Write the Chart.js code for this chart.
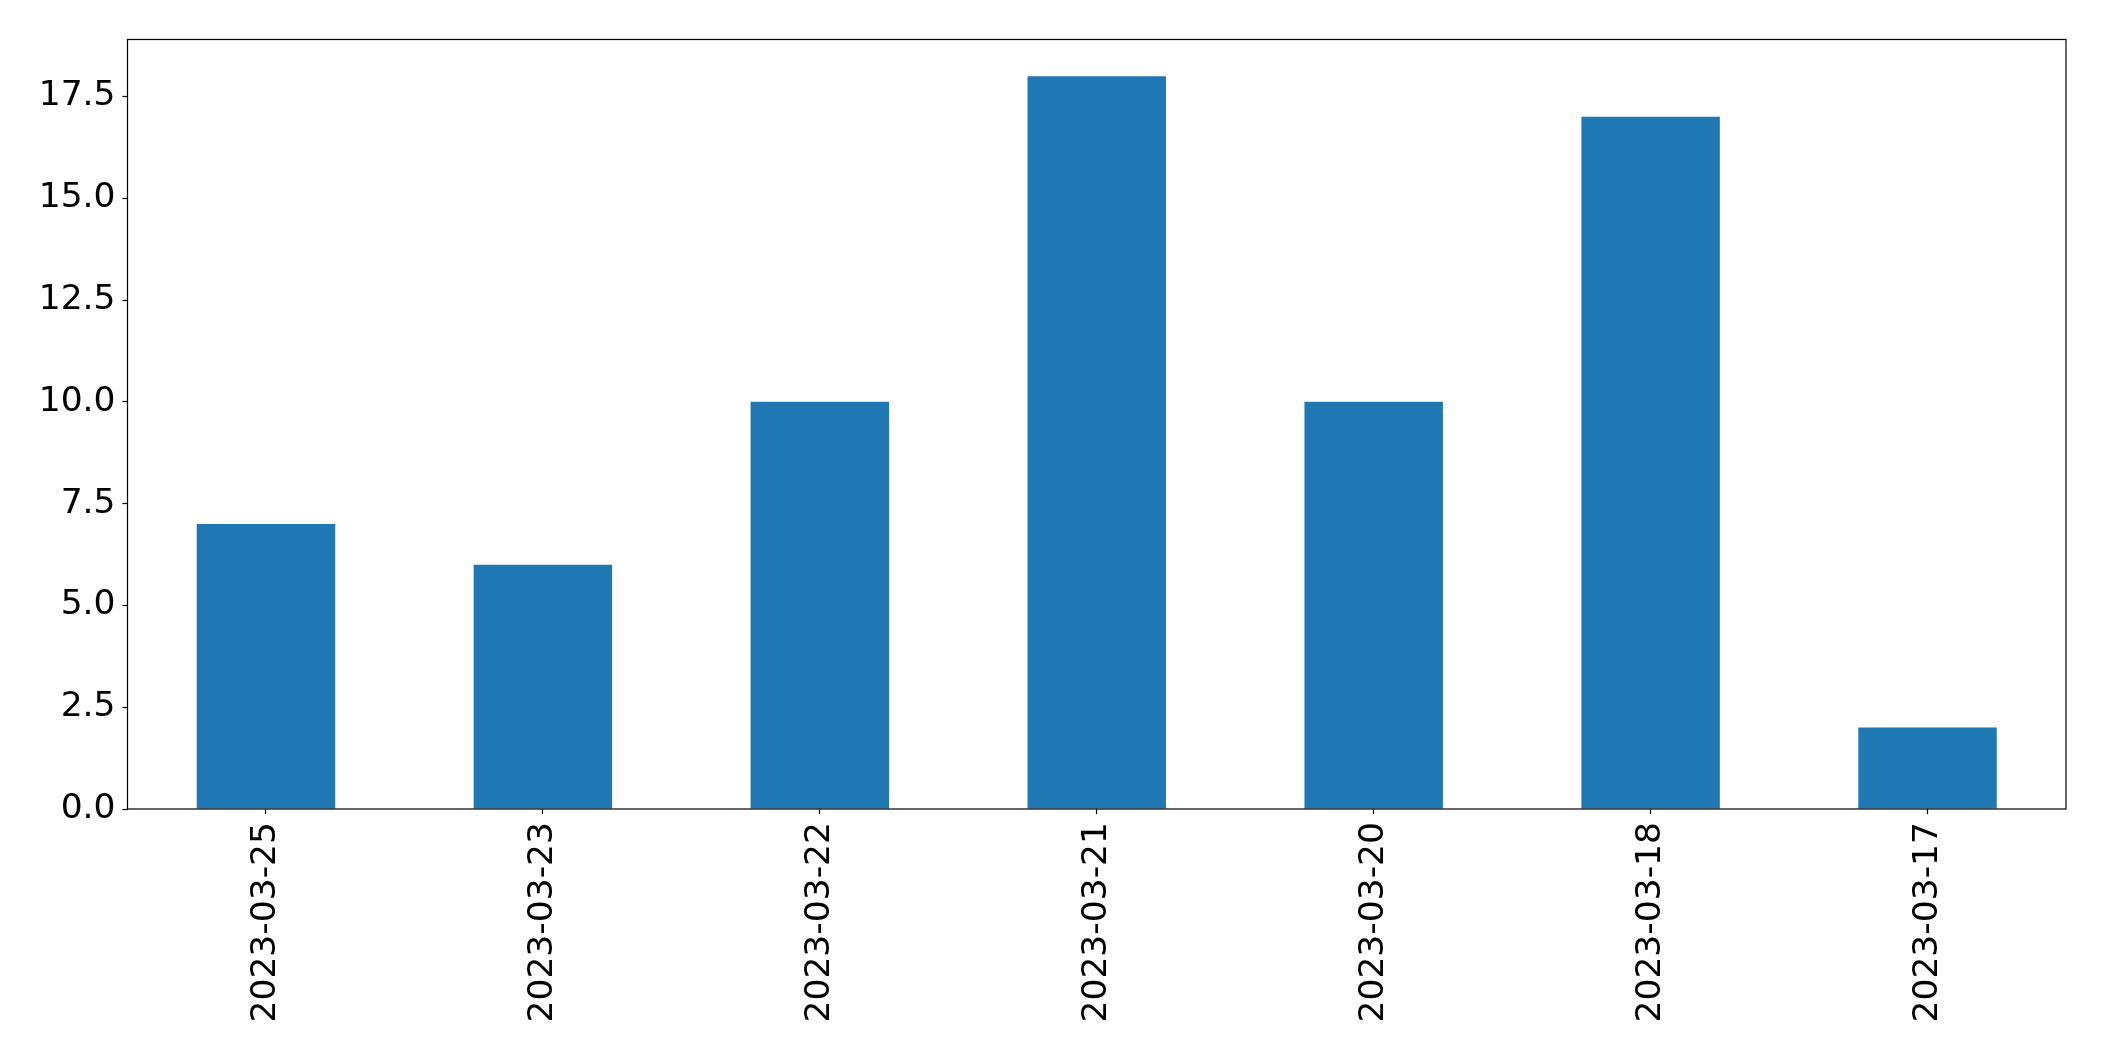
<!DOCTYPE html>
<html lang="en">
<head>
    <meta charset="UTF-8">
    <title>Chart</title>
    <script src="https://cdn.jsdelivr.net/npm/chart.js@4/dist/chart.umd.min.js"></script>
    <style>
        body { margin: 0; background: #fff; }
        canvas { display: block; }
    </style>
</head>
<body>
    <canvas id="myChart" width="2104" height="1061"></canvas>
    <script>
        // Datos del gráfico
        const categories = ['2023-03-25', '2023-03-23', '2023-03-22', '2023-03-21', '2023-03-20', '2023-03-18', '2023-03-17'];
        const values = [7, 6, 10, 18, 10, 17, 2];
        const yTicks = [0, 2.5, 5, 7.5, 10, 12.5, 15, 17.5];

        const fontSpec = { family: 'DejaVu Sans', size: 34.5 };

        // Marco completo alrededor del área del gráfico
        const frame = {
            id: 'frame',
            afterDraw(chart) {
                const a = chart.chartArea;
                const ctx = chart.ctx;
                ctx.save();
                ctx.strokeStyle = '#000';
                ctx.lineWidth = 1.2;
                ctx.strokeRect(a.left, a.top, a.right - a.left, a.bottom - a.top);
                ctx.restore();
            }
        };

        new Chart(document.getElementById('myChart'), {
            type: 'bar',
            data: {
                labels: categories,
                datasets: [{
                    data: values,
                    backgroundColor: '#1f77b4',
                    barPercentage: 0.5,
                    categoryPercentage: 1.0
                }]
            },
            options: {
                responsive: false,
                animation: false,
                layout: { padding: { top: 39.5, right: 38, left: 0, bottom: 0 } },
                plugins: { legend: { display: false }, tooltip: { enabled: false } },
                scales: {
                    x: {
                        offset: true,
                        grid: { offset: false, drawOnChartArea: false, tickLength: 5, tickColor: '#000', tickWidth: 1.2 },
                        border: { display: false },
                        ticks: { color: '#000', font: fontSpec, minRotation: 90, maxRotation: 90, padding: 8, autoSkip: false },
                        afterFit(scale) { scale.height = 252; }
                    },
                    y: {
                        min: 0,
                        max: 18.9,
                        grid: { drawOnChartArea: false, tickLength: 5, tickColor: '#000', tickWidth: 1.2 },
                        border: { display: false },
                        afterBuildTicks(scale) { scale.ticks = yTicks.map(v => ({ value: v })); },
                        ticks: {
                            color: '#000',
                            font: fontSpec,
                            padding: 7,
                            callback: v => Number(v).toFixed(1)
                        },
                        afterFit(scale) { scale.width = 127.5; }
                    }
                }
            },
            plugins: [frame]
        });
    </script>
</body>
</html>
